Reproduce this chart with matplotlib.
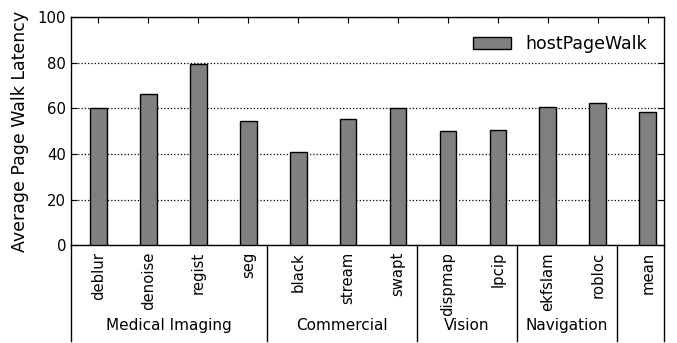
import numpy as np
import matplotlib
matplotlib.use('Agg')
import matplotlib.pyplot as plt

# benchmarks and their groups
benchmarks = ['deblur', 'denoise', 'regist', 'seg',
              'black', 'stream', 'swapt',
              'dispmap', 'lpcip',
              'ekfslam', 'robloc',
              'mean']
latency = [60.1, 66.3, 79.6, 54.6, 41.0, 55.2, 60.1, 50.1, 50.5, 60.5, 62.3, 58.3]
groups = ['Medical Imaging', 'Commercial', 'Vision', 'Navigation', '']
group_sizes = [4, 3, 2, 2, 1]

fig = plt.figure(figsize=(6.77, 3.43), dpi=100)
ax = fig.add_axes([0.1049, 0.2857, 0.8764, 0.6633])

x = np.arange(len(benchmarks))
ax.bar(x, latency, width=0.335, color='0.5', edgecolor='black', linewidth=1.0,
       label='hostPageWalk', zorder=3)

ax.set_xlim(-0.55, len(benchmarks) - 1 + 0.333)
ax.set_ylim(0, 100)
ax.set_yticks([0, 20, 40, 60, 80, 100])
ax.set_xticks(x)
ax.set_xticklabels(benchmarks, rotation=90, fontsize=10.7)
ax.tick_params(axis='y', labelsize=10.7)
ax.tick_params(direction='in', top=True, right=True, length=4, width=0.8)
ax.tick_params(axis='x', pad=5)
ax.yaxis.grid(True, linestyle=':', color='black', linewidth=0.9, zorder=0)
ax.set_axisbelow(True)
for s in ax.spines.values():
    s.set_linewidth(1.0)

ax.set_ylabel('Average Page Walk Latency', fontsize=12.5, labelpad=6)

# group separators and labels below the axis
trans = ax.get_xaxis_transform()
start = 0
edges = [-0.55]
for size in group_sizes:
    end = start + size - 1
    edges.append(end + 0.38)
    start += size
edges[-1] = len(benchmarks) - 1 + 0.333
for e in edges:
    ax.plot([e, e], [0, -0.42], transform=trans, color='black', linewidth=1.0,
            clip_on=False)
for i, g in enumerate(groups):
    ax.text((edges[i] + edges[i + 1]) / 2, -0.356, g, transform=trans,
            ha='center', va='center', fontsize=11)

ax.legend(loc='upper right', frameon=False, fontsize=12.5, handlelength=2.2,
          borderaxespad=0.6)

fig.savefig('out.png', dpi=100)
